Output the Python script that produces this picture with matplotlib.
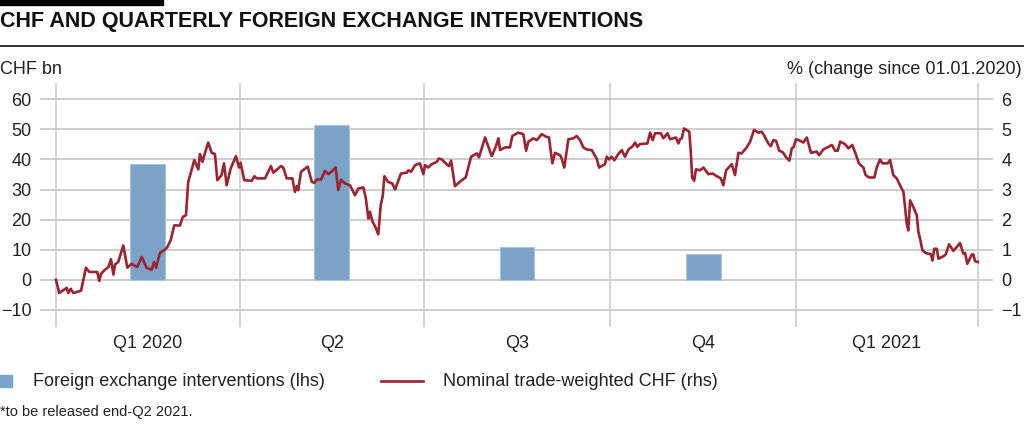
"""
CHF and quarterly foreign exchange interventions (SNB style chart).
Bars: FX interventions per quarter (CHF bn, lhs).
Line: nominal trade-weighted CHF, % change since 01.01.2020 (rhs).
"""

import numpy as np
import pandas as pd
import matplotlib.pyplot as plt
from matplotlib.patches import Rectangle
from matplotlib.lines import Line2D

plt.rcParams['font.family'] = ['Liberation Sans', 'DejaVu Sans']

# quarterly interventions (CHF bn)
quarters = ['Q1 2020', 'Q2', 'Q3', 'Q4', 'Q1 2021']
quarter_starts = ['2020-01-01', '2020-04-01', '2020-07-01', '2020-10-01', '2021-01-01', '2021-04-01']
fx_interventions = [38.6, 51.6, 10.9, 8.7]

# trade-weighted CHF, days since 01.01.2020 and % change
chf_days = [
    0, 1.6, 3.3, 5.3, 6.1, 7.3, 8.6, 10.2, 12.4, 13.5, 14.8, 16.5, 19.3, 20.4, 21.4,
    22.3, 24.2, 25.9, 27.2, 28.4, 29.2, 30.8, 33.3, 35.3, 37.4, 40.2, 42.4, 44.8, 47.3,
    48.5, 49.5, 51.4, 53.9, 55.1, 56.7, 58.5, 61.3, 62.7, 64.3, 65.4, 66.6, 68.4, 70.4,
    71.2, 72.5, 73.7, 75.3, 77.0, 78.6, 79.8, 81.9, 83.1, 84.4, 86.4, 89.0, 90.5, 91.3,
    93.1, 96.8, 98.1, 99.3, 103.4, 106.3, 107.5, 111.3, 112.4, 114.1, 116.9, 118.2,
    119.1, 119.8, 121.2, 124.5, 126.5, 127.8, 128.9, 131.1, 133.0, 134.7, 136.7, 138.3,
    139.6, 141.0, 142.9, 145.4, 147.9, 149.5, 152.0, 153.2, 154.5, 155.3, 156.4, 158.1,
    159.4, 160.6, 161.6, 162.4, 164.1, 166.3, 167.7, 170.6, 173.5, 174.2, 175.6, 177.6,
    180.0, 181.7, 182.5, 184.1, 185.8, 188.3, 189.4, 190.8, 193.2, 194.4, 195.4, 197.3,
    199.8, 202.6, 205.3, 208.1, 209.2, 212.2, 215.5, 217.5, 218.8, 219.6, 222.1, 224.5,
    225.7, 228.6, 231.1, 232.5, 233.6, 236.1, 237.8, 240.2, 242.2, 243.8, 245.5, 246.8,
    249.3, 250.1, 251.4, 253.4, 255.9, 257.5, 259.2, 260.8, 262.5, 265.0, 265.7, 267.4,
    268.6, 271.5, 272.4, 273.5, 274.8, 276.1, 278.1, 279.8, 281.4, 283.1, 285.2, 286.4,
    287.5, 288.8, 292.5, 293.8, 295.1, 296.3, 299.1, 300.4, 302.4, 303.7, 306.6, 307.8,
    308.6, 309.5, 310.6, 313.2, 313.9, 314.6, 315.6, 316.5, 318.5, 320.2, 322.6, 324.8,
    326.8, 328.8, 330.0, 331.4, 334.2, 335.8, 337.5, 339.1, 341.6, 343.3, 345.2, 347.4,
    349.0, 350.2, 352.3, 353.5, 354.8, 356.1, 357.7, 359.4, 361.1, 362.7, 363.9, 364.7,
    366.0, 368.0, 369.6, 371.3, 373.4, 376.2, 377.4, 379.5, 383.7, 385.3, 386.6, 387.8,
    390.2, 391.9, 393.8, 395.5, 397.1, 399.3, 400.4, 402.1, 404.7, 405.9, 407.5, 408.7,
    411.3, 412.5, 414.1, 415.8, 417.4, 419.1, 419.9, 420.7, 421.5, 422.4, 424.0, 425.7,
    426.5, 427.3, 428.5, 430.1, 432.8, 433.4, 434.4, 435.6, 436.4, 438.8, 440.0, 441.7,
    443.8, 445.5, 447.1, 448.7, 449.6, 450.7, 452.9, 453.7, 454.5, 455.9,
]
chf_pct = [
    0.0, -0.44, -0.36, -0.27, -0.44, -0.30, -0.44, -0.41, -0.36, -0.02, 0.40, 0.26, 0.26, 0.26, -0.04,
    0.20, 0.33, 0.42, 0.68, 0.17, 0.51, 0.59, 1.14, 0.40, 0.53, 0.42, 0.76, 0.40, 0.33,
    0.59, 0.40, 0.89, 1.00, 1.09, 1.31, 1.81, 1.80, 2.09, 2.14, 3.26, 3.53, 3.98, 3.67,
    4.18, 3.92, 4.22, 4.56, 4.22, 4.18, 3.31, 3.48, 3.87, 3.14, 3.70, 4.11, 3.73, 3.89,
    3.31, 3.29, 3.44, 3.37, 3.37, 3.78, 3.56, 3.78, 3.73, 3.37, 3.37, 2.92,
    3.11, 2.98, 3.59, 3.76, 3.26, 3.22, 3.33, 3.33, 3.62, 3.51, 3.62, 3.73,
    2.98, 3.33, 3.20, 3.14, 2.81, 3.03, 3.07, 2.73, 2.03, 2.26, 1.96, 1.73,
    1.51, 2.48, 2.78, 3.44, 3.26, 3.20, 3.00, 3.53, 3.56, 3.64, 3.59, 3.81,
    3.87, 3.51, 3.81, 3.73, 3.84, 3.92, 4.03, 4.00, 3.84, 3.78, 3.96, 3.11,
    3.26, 3.40, 4.09, 4.20, 4.07, 4.73, 4.11, 4.42, 4.70, 4.31, 4.40, 4.40,
    4.78, 4.89, 4.84, 4.29, 4.59, 4.70, 4.64, 4.84, 4.76, 4.73, 3.87, 4.22,
    4.14, 4.03, 3.73, 4.67, 4.70, 4.78, 4.64, 4.40, 4.33, 4.31, 4.22, 4.03,
    3.73, 3.84, 4.09, 4.00, 4.09, 3.97, 4.18, 4.31, 4.09, 4.33, 4.44, 4.56,
    4.42, 4.51, 4.53, 4.89, 4.64, 4.87, 4.87, 4.70, 4.87, 4.67, 4.73, 4.53,
    4.67, 4.70, 5.03, 4.92, 4.31, 3.40, 3.29, 3.67, 3.64, 3.73, 3.51, 3.53,
    3.44, 3.37, 3.14, 3.64, 3.84, 3.48, 4.22, 4.20, 4.40, 4.59, 4.98, 4.89,
    4.92, 4.80, 4.53, 4.44, 4.64, 4.62, 4.29, 4.24, 4.07, 3.96, 4.37, 4.40,
    4.67, 4.62, 4.56, 4.73, 4.22, 4.26, 4.14, 4.33, 4.48, 4.29, 4.29, 4.59,
    4.51, 4.37, 4.48, 4.18, 3.87, 3.73, 3.48, 3.40, 3.40, 3.73, 4.00, 3.87,
    3.87, 3.98, 3.48, 3.37, 3.14, 2.92, 2.42, 1.87, 1.64, 2.64, 2.42, 2.14,
    1.59, 1.37, 0.98, 0.89, 0.84, 0.64, 1.03, 1.03, 0.70, 0.78, 0.84, 1.18,
    0.96, 1.09, 1.22, 0.87, 0.89, 0.53, 0.84, 0.84, 0.62, 0.59,
]

origin = pd.Timestamp('2020-01-01')
bounds = [(pd.Timestamp(d) - origin).days for d in quarter_starts]
centers = [(a + b) / 2 for a, b in zip(bounds[:-1], bounds[1:])]

bar_color = '#7ba3c7'
line_color = '#9b2430'
grid_color = '#c9c9c9'
text_color = '#222222'

fig = plt.figure(figsize=(10.24, 4.24), dpi=100)
ax = fig.add_axes([40 / 1024, 1 - 327 / 424, 953 / 1024, 244 / 424])
ax2 = ax.twinx()

ax.set_xlim(-7.9, 463.4)
ax.set_ylim(-15.7, 65.4)
ax2.set_ylim(-1.57, 6.54)

for y in range(-10, 61, 10):
    ax.axhline(y, color=grid_color, lw=1.3, zorder=0)
for b in bounds:
    ax.axvline(b, color=grid_color, lw=1.1, zorder=0)

ax.bar(centers[:len(fx_interventions)], fx_interventions, width=17.3,
       color=bar_color, edgecolor='#aac4dc', linewidth=0.8, zorder=2)
ax2.plot(chf_days, chf_pct, color=line_color, lw=1.9, zorder=3)

ax.set_yticks(range(-10, 61, 10))
ax2.set_yticks(range(-1, 7))
ax.set_xticks(centers)
ax.set_xticklabels(quarters)
for a in (ax, ax2):
    for s in a.spines.values():
        s.set_visible(False)
    a.tick_params(length=0, labelsize=13, colors=text_color)
ax.tick_params(axis='y', pad=6)
ax2.tick_params(axis='y', pad=6)
ax.tick_params(axis='x', pad=6)

# header
fig.patches.append(Rectangle((0, 1 - 5 / 424), 163 / 1024, 5 / 424,
                             transform=fig.transFigure, color='black'))
fig.text(0, 1 - 22 / 424, 'CHF AND QUARTERLY FOREIGN EXCHANGE INTERVENTIONS',
         fontweight='bold', fontsize=15.5, va='center', ha='left', color='#111111')
fig.lines.append(Line2D([0, 1], [1 - 46 / 424] * 2, transform=fig.transFigure,
                        color=text_color, lw=1.3))
fig.text(0, 1 - 70 / 424, 'CHF bn', fontsize=13, va='center', color=text_color)
fig.text(1022 / 1024, 1 - 70 / 424, '% (change since 01.01.2020)', fontsize=13,
         va='center', ha='right', color=text_color)

# legend and footnote
ly = 1 - 381 / 424
fig.patches.append(Rectangle((0, 1 - 387 / 424), 12 / 1024, 12 / 424,
                             transform=fig.transFigure, color=bar_color))
fig.text(33 / 1024, ly, 'Foreign exchange interventions (lhs)', fontsize=13,
         va='center', color=text_color)
fig.lines.append(Line2D([381 / 1024, 423 / 1024], [ly, ly], transform=fig.transFigure,
                        color=line_color, lw=1.9))
fig.text(443 / 1024, ly, 'Nominal trade-weighted CHF (rhs)', fontsize=13,
         va='center', color=text_color)
fig.text(0, 1 - 412 / 424, '*to be released end-Q2 2021.', fontsize=10.5,
         va='center', color=text_color)

fig.savefig('out.png', dpi=100)
